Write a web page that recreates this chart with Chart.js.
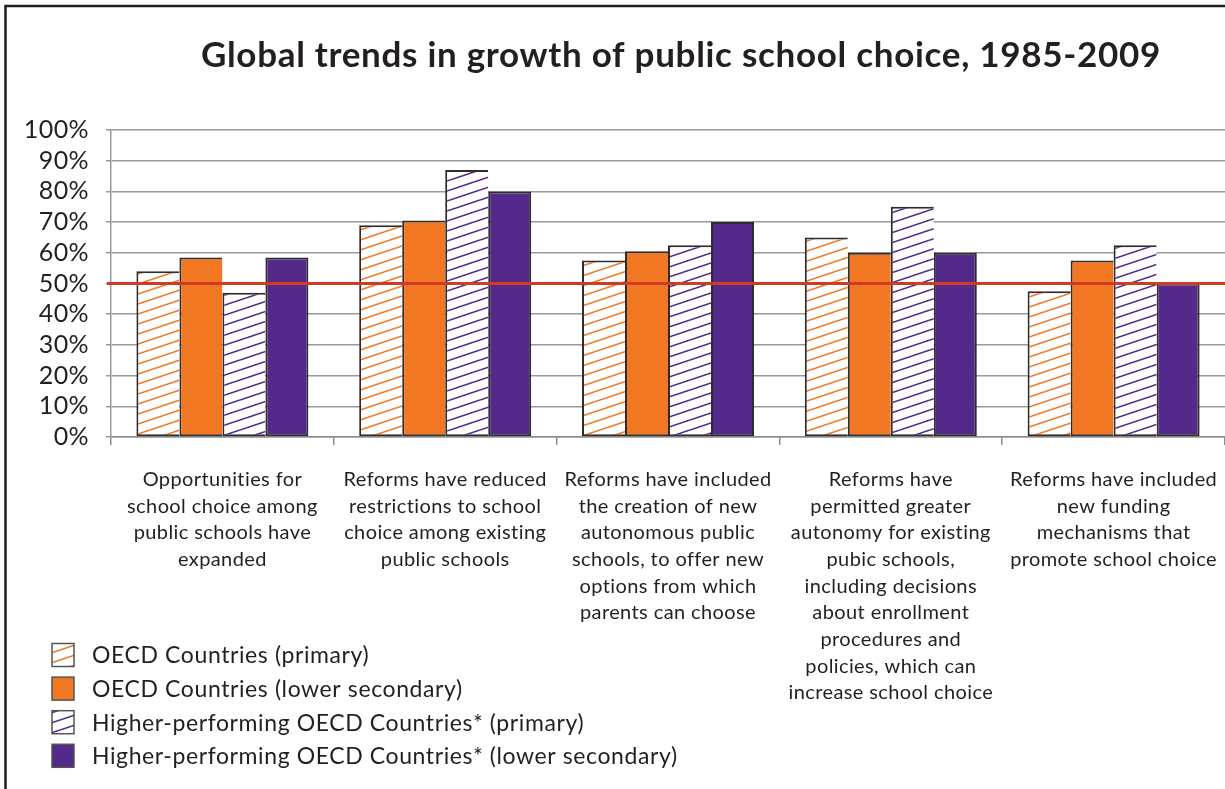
<!DOCTYPE html>
<html>
<head>
<meta charset="utf-8">
<script src="https://cdn.jsdelivr.net/npm/chart.js@4.4.1/dist/chart.umd.min.js"></script>
<style>
  html, body { margin: 0; padding: 0; background: #ffffff; }
  #wrap { position: relative; width: 1225px; height: 789px; }
</style>
</head>
<body>
<div id="wrap"><canvas id="c" width="1225" height="789"></canvas></div>
<script>
// ---- data ----
const chartTitle = 'Global trends in growth of public school choice, 1985-2009';
const categories = [
  ['Opportunities for', 'school choice among', 'public schools have', 'expanded'],
  ['Reforms have reduced', 'restrictions to school', 'choice among existing', 'public schools'],
  ['Reforms have included', 'the creation of new', 'autonomous public', 'schools, to offer new', 'options from which', 'parents can choose'],
  ['Reforms have', 'permitted greater', 'autonomy for existing', 'pubic schools,', 'including decisions', 'about enrollment', 'procedures and', 'policies, which can', 'increase school choice'],
  ['Reforms have included', 'new funding', 'mechanisms that', 'promote school choice']
];
const seriesNames = [
  'OECD Countries (primary)',
  'OECD Countries (lower secondary)',
  'Higher-performing OECD Countries* (primary)',
  'Higher-performing OECD Countries* (lower secondary)'
];
const oecdPrimary      = [54, 69, 57.5, 65, 47.5];
const oecdLowerSec     = [58.5, 70.5, 60.5, 60, 57.5];
const hpPrimary        = [47, 87, 62.5, 75, 62.5];
const hpLowerSec       = [58.5, 80, 70, 60, 50];
const referenceLine    = 50;
const yTickValues      = [0, 10, 20, 30, 40, 50, 60, 70, 80, 90, 100];

// ---- styles ----
const ORANGE = '#F17722';
const PURPLE = '#532A89';
const EDGE = '#2f2c2d';
const TEXT = '#231f20';
const FONT = 'Lato, "Open Sans", sans-serif';

function hatch(color) {
  const w = 30, H = 10;
  const c = document.createElement('canvas');
  c.width = w; c.height = H;
  const g = c.getContext('2d');
  g.fillStyle = '#ffffff';
  g.fillRect(0, 0, w, H);
  g.strokeStyle = color;
  g.lineWidth = 1.6;
  for (let k = -1; k <= 1; k++) {
    g.beginPath();
    g.moveTo(0, H + k * H);
    g.lineTo(w, k * H);
    g.stroke();
  }
  return g.createPattern(c, 'repeat');
}
const orangeHatch = hatch(ORANGE);
const purpleHatch = hatch(PURPLE);

const fills = [orangeHatch, ORANGE, purpleHatch, PURPLE];
const seriesValues = [oecdPrimary, oecdLowerSec, hpPrimary, hpLowerSec];

const datasets = seriesValues.map((vals, i) => ({
  label: seriesNames[i],
  data: vals,
  backgroundColor: fills[i],
  borderColor: EDGE,
  borderWidth: { top: 2, left: 2, bottom: 2, right: i === 3 ? 2 : 0 },
  borderSkipped: false,
  categoryPercentage: 0.772,
  barPercentage: 1.0
}));

const framePlugin = {
  id: 'frame',
  beforeDraw(chart) {
    const g = chart.ctx;
    g.save();
    g.fillStyle = '#ffffff';
    g.fillRect(0, 0, chart.width, chart.height);
    g.restore();
    g.letterSpacing = '0.4px';
  },
  afterDraw(chart) {
    const g = chart.ctx;
    g.save();
    g.strokeStyle = TEXT;
    g.lineWidth = 2.5;
    g.beginPath();
    g.moveTo(5.5, chart.height);
    g.lineTo(5.5, 6);
    g.lineTo(chart.width, 6);
    g.stroke();
    // title
    g.letterSpacing = '0.7px';
    g.font = 'bold 35px ' + FONT;
    g.fillStyle = TEXT;
    g.textAlign = 'center';
    g.textBaseline = 'middle';
    g.fillText(chartTitle, 681, 56);
    g.restore();
  }
};

const refLinePlugin = {
  id: 'refLine',
  afterDatasetsDraw(chart) {
    const y = chart.scales.y.getPixelForValue(referenceLine);
    const g = chart.ctx;
    g.save();
    g.strokeStyle = '#D13A27';
    g.lineWidth = 3;
    g.beginPath();
    g.moveTo(chart.chartArea.left - 4, y);
    g.lineTo(chart.width, y);
    g.stroke();
    g.restore();
  }
};

const legendPlugin = {
  id: 'customLegend',
  afterDraw(chart) {
    const g = chart.ctx;
    g.save();
    g.letterSpacing = '0.6px';
    g.font = '23px ' + FONT;
    g.textBaseline = 'middle';
    g.textAlign = 'left';
    chart.data.datasets.forEach((ds, i) => {
      const cy = 655 + i * 33.6;
      const bx = 52, bw = 22, bh = 23;
      g.fillStyle = ds.backgroundColor;
      g.fillRect(bx, cy - bh / 2, bw, bh);
      g.strokeStyle = '#555';
      g.lineWidth = 1.5;
      g.strokeRect(bx, cy - bh / 2, bw, bh);
      g.fillStyle = TEXT;
      g.fillText(ds.label, 92, cy + 1);
    });
    g.restore();
  }
};

new Chart(document.getElementById('c'), {
  type: 'bar',
  data: { labels: categories, datasets },
  plugins: [framePlugin, refLinePlugin, legendPlugin],
  options: {
    responsive: false,
    animation: false,
    layout: { padding: { left: 0, right: 0, top: 130, bottom: 0 } },
    plugins: {
      legend: { display: false },
      tooltip: { enabled: false },
      title: { display: false }
    },
    scales: {
      x: {
        afterFit(scale) { scale.height = 789 - 437; scale.paddingLeft = 0; scale.paddingRight = 0; },
        grid: { drawOnChartArea: false, drawTicks: true, tickLength: 8, color: '#8c8c8c', lineWidth: 1.5, offset: true },
        border: { display: true, color: '#8c8c8c', width: 1.5 },
        ticks: {
          color: TEXT,
          font: { family: FONT, size: 20, lineHeight: 1.335 },
          padding: 21,
          maxRotation: 0,
          autoSkip: false
        }
      },
      y: {
        min: 0,
        max: 100,
        afterFit(scale) { scale.width = 111; },
        afterBuildTicks(scale) { scale.ticks = yTickValues.map(v => ({ value: v })); },
        grid: { color: '#999999', lineWidth: 1.5, tickLength: 5 },
        border: { display: true, color: '#999999', width: 1.5 },
        ticks: {
          color: TEXT,
          font: { family: FONT, size: 25 },
          padding: 17,
          autoSkip: false,
          callback: v => v + '%'
        }
      }
    }
  }
});
</script>
</body>
</html>
